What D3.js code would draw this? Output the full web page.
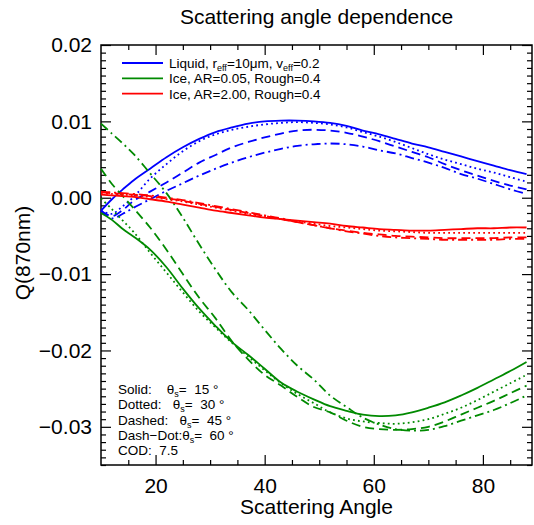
<!DOCTYPE html>
<html>
<head>
<meta charset="utf-8">
<script src="https://cdn.jsdelivr.net/npm/d3@7"></script>
<style>
  body { margin: 0; background: #fff; }
  svg { font-family: "Liberation Sans", Arial, Helvetica, sans-serif; }
  .axis path { display: none; }
  .axis line { stroke: #000; stroke-width: 1.2; }
  .axis text { font-size: 21px; fill: #000; }
  .note { font-size: 13.5px; fill: #000; white-space: pre; }
</style>
</head>
<body>
<svg id="chart" width="534" height="525"></svg>
<script>
// Scattering angle (deg) shared by every curve
const angles = [10, 12, 14, 16, 19, 22, 25, 28, 31, 34, 37, 40, 43, 46, 49, 52, 55, 58, 61, 64, 67, 70, 73, 76, 79, 82, 85, 88];

// Liquid, r_eff=10um, v_eff=0.2  (solar zenith 15/30/45/60)
const liquid15 = [-0.0017, -0.0002, 0.0011, 0.0023, 0.0038, 0.0053, 0.0066, 0.0077, 0.0086, 0.0092, 0.0097, 0.0100, 0.0101, 0.0101, 0.0100, 0.0098, 0.0094, 0.0088, 0.0083, 0.0077, 0.0071, 0.0066, 0.0060, 0.0054, 0.0048, 0.0042, 0.0036, 0.0031];
const liquid30 = [-0.0017, -0.0021, -0.0011, 0.0001, 0.0025, 0.0044, 0.0061, 0.0074, 0.0083, 0.0089, 0.0093, 0.0096, 0.0098, 0.0099, 0.0098, 0.0096, 0.0092, 0.0086, 0.0080, 0.0073, 0.0065, 0.0057, 0.0050, 0.0044, 0.0038, 0.0033, 0.0027, 0.0021];
const liquid45 = [-0.0017, -0.0024, -0.0016, -0.0004, 0.0008, 0.0020, 0.0033, 0.0046, 0.0056, 0.0066, 0.0073, 0.0079, 0.0084, 0.0088, 0.0089, 0.0088, 0.0085, 0.0080, 0.0074, 0.0067, 0.0060, 0.0053, 0.0044, 0.0036, 0.0029, 0.0022, 0.0016, 0.0011];
const liquid60 = [-0.0017, -0.0027, -0.0021, -0.0013, -0.0002, 0.0009, 0.0019, 0.0029, 0.0038, 0.0046, 0.0053, 0.0059, 0.0064, 0.0068, 0.0070, 0.0071, 0.0070, 0.0067, 0.0062, 0.0058, 0.0052, 0.0046, 0.0039, 0.0031, 0.0025, 0.0018, 0.0011, 0.0005];

// Ice, AR=0.05, Rough=0.4
const plates15 = [-0.0020, -0.0029, -0.0041, -0.0051, -0.0068, -0.0091, -0.0119, -0.0145, -0.0168, -0.0189, -0.0206, -0.0224, -0.0242, -0.0254, -0.0264, -0.0273, -0.0279, -0.0284, -0.0286, -0.0285, -0.0281, -0.0275, -0.0268, -0.0259, -0.0249, -0.0238, -0.0227, -0.0215];
const plates30 = [-0.0001, -0.0015, -0.0030, -0.0045, -0.0072, -0.0098, -0.0124, -0.0149, -0.0170, -0.0190, -0.0208, -0.0226, -0.0243, -0.0257, -0.0269, -0.0281, -0.0289, -0.0293, -0.0295, -0.0296, -0.0294, -0.0290, -0.0283, -0.0275, -0.0265, -0.0254, -0.0243, -0.0232];
const plates45 = [0.0038, 0.0018, 0.0002, -0.0014, -0.0039, -0.0068, -0.0100, -0.0131, -0.0158, -0.0188, -0.0212, -0.0232, -0.0246, -0.0261, -0.0274, -0.0281, -0.0292, -0.0300, -0.0303, -0.0304, -0.0303, -0.0300, -0.0293, -0.0284, -0.0275, -0.0266, -0.0256, -0.0246];
const plates60 = [0.0097, 0.0084, 0.0071, 0.0057, 0.0032, 0.0006, -0.0026, -0.0061, -0.0094, -0.0124, -0.0147, -0.0173, -0.0198, -0.0220, -0.0238, -0.0259, -0.0274, -0.0288, -0.0297, -0.0303, -0.0305, -0.0304, -0.0299, -0.0292, -0.0285, -0.0278, -0.0269, -0.0259];

// Ice, AR=2.00, Rough=0.4
const columns15 = [0.0004, 0.0003, 0.0002, 0.0001, -0.0002, -0.0005, -0.0009, -0.0013, -0.0017, -0.0020, -0.0023, -0.0026, -0.0028, -0.0030, -0.0032, -0.0034, -0.0037, -0.0039, -0.0041, -0.0042, -0.0043, -0.0043, -0.0042, -0.0041, -0.0040, -0.0040, -0.0039, -0.0039];
const columns30 = [0.0006, 0.0005, 0.0004, 0.0003, 0.0001, -0.0002, -0.0005, -0.0009, -0.0013, -0.0017, -0.0021, -0.0025, -0.0028, -0.0031, -0.0034, -0.0037, -0.0039, -0.0041, -0.0043, -0.0044, -0.0045, -0.0046, -0.0046, -0.0046, -0.0046, -0.0046, -0.0046, -0.0046];
const columns45 = [0.0007, 0.0006, 0.0005, 0.0004, 0.0002, -0.0001, -0.0004, -0.0008, -0.0012, -0.0016, -0.0020, -0.0024, -0.0028, -0.0032, -0.0036, -0.0040, -0.0043, -0.0046, -0.0048, -0.0050, -0.0051, -0.0052, -0.0053, -0.0053, -0.0053, -0.0053, -0.0052, -0.0052];
const columns60 = [0.0008, 0.0007, 0.0006, 0.0005, 0.0003, 0.0000, -0.0003, -0.0007, -0.0011, -0.0015, -0.0019, -0.0023, -0.0027, -0.0032, -0.0036, -0.0040, -0.0044, -0.0047, -0.0050, -0.0052, -0.0053, -0.0054, -0.0055, -0.0055, -0.0055, -0.0055, -0.0054, -0.0054];

// Tick labels
const xTickLabels = [20, 40, 60, 80];
const yTickLabels = [-0.03, -0.02, -0.01, 0.00, 0.01, 0.02];

const blue = '#0000ff';
const green = '#008a00';
const red = '#ff0000';

// one dash style per solar zenith angle
const dashes = {
    15: null,
    30: '1.8,3.2',
    45: '9,5',
    60: '9,4,2,4'
};

const series = [
    {values: liquid15, color: blue, sza: 15},
    {values: liquid30, color: blue, sza: 30},
    {values: liquid45, color: blue, sza: 45},
    {values: liquid60, color: blue, sza: 60},
    {values: plates15, color: green, sza: 15},
    {values: plates30, color: green, sza: 30},
    {values: plates45, color: green, sza: 45},
    {values: plates60, color: green, sza: 60},
    {values: columns15, color: red, sza: 15},
    {values: columns30, color: red, sza: 30},
    {values: columns45, color: red, sza: 45},
    {values: columns60, color: red, sza: 60}
];

const margin = {top: 45, right: 2, bottom: 60, left: 101};
const svg = d3.select('#chart');
const width = +svg.attr('width') - margin.left - margin.right;
const height = +svg.attr('height') - margin.top - margin.bottom;

const g = svg.append('g')
    .attr('transform', `translate(${margin.left},${margin.top})`);

const x = d3.scaleLinear().domain([10, 89]).range([0, width]);
const y = d3.scaleLinear().domain([-0.035, 0.02]).range([height, 0]);

// Minor tick positions (IDL style, all four sides, pointing inward)
const xMinor = d3.range(15, 89, 5).filter(d => d % 20 !== 0);
const yMinor = d3.range(-35, 21).filter(d => d % 10 !== 0).map(d => d / 1000);

function drawTicks(axisFn, transform, values, size, labels) {
    const axis = axisFn
        .tickValues(values)
        .tickSize(-size)
        .tickSizeOuter(0);
    if (!labels) axis.tickFormat('');
    return g.append('g')
        .attr('class', 'axis')
        .attr('transform', transform)
        .call(axis);
}

// bottom
drawTicks(d3.axisBottom(x), `translate(0,${height})`, xMinor, 5, false);
drawTicks(d3.axisBottom(x).tickPadding(13).tickFormat(d3.format('d')), `translate(0,${height})`, xTickLabels, 10, true);
// top
drawTicks(d3.axisTop(x), 'translate(0,0)', xMinor, 5, false);
drawTicks(d3.axisTop(x), 'translate(0,0)', xTickLabels, 10, false);
// left
drawTicks(d3.axisLeft(y), 'translate(0,0)', yMinor, 5, false);
drawTicks(d3.axisLeft(y).tickPadding(9).tickFormat(d3.format('.2f')), 'translate(0,0)', yTickLabels, 10, true);
// right
drawTicks(d3.axisRight(y), `translate(${width},0)`, yMinor, 5, false);
drawTicks(d3.axisRight(y), `translate(${width},0)`, yTickLabels, 10, false);

// plot frame
g.append('rect')
    .attr('width', width)
    .attr('height', height)
    .attr('fill', 'none')
    .attr('stroke', '#000')
    .attr('stroke-width', 1.5);

// curves
const line = d3.line()
    .x((d, i) => x(angles[i]))
    .y(d => y(d))
    .curve(d3.curveCatmullRom.alpha(0.5));

g.append('g')
    .selectAll('path')
    .data(series)
    .enter()
    .append('path')
    .attr('d', d => line(d.values))
    .attr('fill', 'none')
    .attr('stroke', d => d.color)
    .attr('stroke-width', 1.8)
    .attr('stroke-dasharray', d => dashes[d.sza]);

// legend
const legendItems = [
    {color: blue, parts: [['Liquid, r'], ['eff', true], ['=10μm, v'], ['eff', true], ['=0.2']]},
    {color: green, parts: [['Ice, AR=0.05, Rough=0.4']]},
    {color: red, parts: [['Ice, AR=2.00, Rough=0.4']]}
];

const legend = svg.append('g').attr('transform', 'translate(122,63)');

legendItems.forEach((item, i) => {
    const row = legend.append('g').attr('transform', `translate(0,${i * 15.3})`);
    row.append('line')
        .attr('x1', 0).attr('x2', 41)
        .attr('stroke', item.color)
        .attr('stroke-width', 1.8);
    addRichText(row.append('text').attr('class', 'note').attr('x', 47).attr('y', 5), item.parts);
});

// writes text pieces, the flagged ones as subscripts
function addRichText(text, parts) {
    let lowered = false;
    parts.forEach(([s, sub]) => {
        const t = text.append('tspan').text(s);
        if (sub && !lowered) { t.attr('dy', 3).style('font-size', '9px'); lowered = true; }
        else if (!sub && lowered) { t.attr('dy', -3); lowered = false; }
    });
}

// annotation of line styles
const notes = [
    [['Solid:    θ'], ['s', true], ['=  15 °']],
    [['Dotted:   θ'], ['s', true], ['=  30 °']],
    [['Dashed:   θ'], ['s', true], ['=  45 °']],
    [['Dash−Dot:θ'], ['s', true], ['=  60 °']],
    [['COD:  7.5']]
];

notes.forEach((parts, i) => {
    addRichText(svg.append('text')
        .attr('class', 'note')
        .attr('x', 118)
        .attr('y', 394 + i * 15.3), parts);
});

// titles
svg.append('text')
    .attr('x', margin.left + width / 2)
    .attr('y', 24)
    .attr('text-anchor', 'middle')
    .style('font-size', '21px')
    .text('Scattering angle dependence');

svg.append('text')
    .attr('x', margin.left + width / 2)
    .attr('y', 514)
    .attr('text-anchor', 'middle')
    .style('font-size', '21px')
    .text('Scattering Angle');

svg.append('text')
    .attr('transform', 'translate(30,253) rotate(-90)')
    .attr('text-anchor', 'middle')
    .style('font-size', '21px')
    .text('Q(870nm)');
</script>
</body>
</html>
